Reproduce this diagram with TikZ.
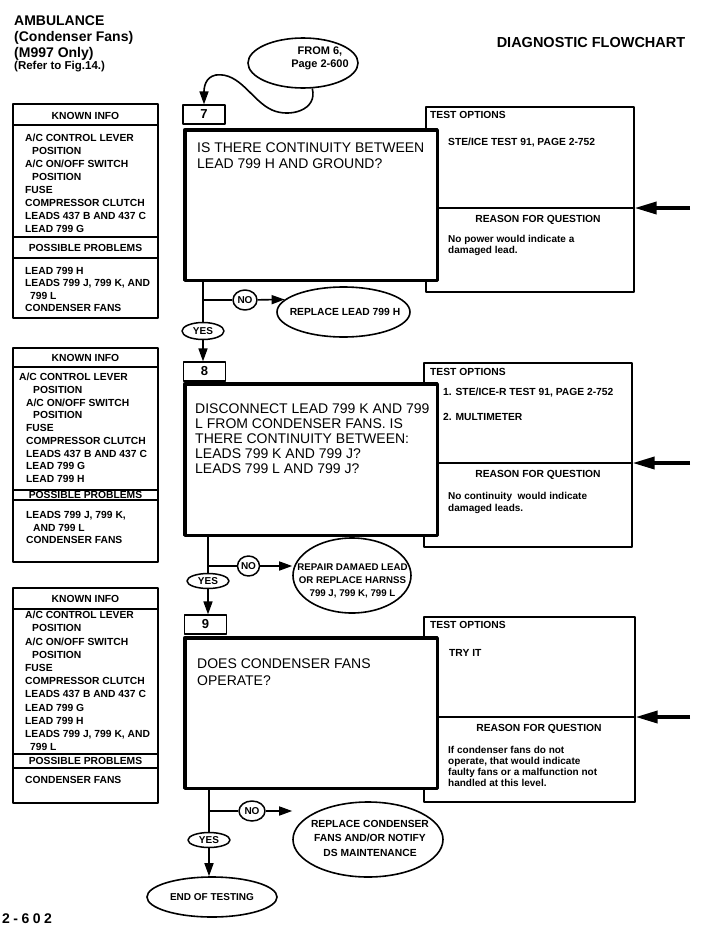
\documentclass[tikz,border=0pt]{standalone}
\usepackage{fontspec}
\setmainfont{Liberation Sans}
\usetikzlibrary{arrows.meta,shapes.geometric}
\newcommand{\infofont}{\fontsize{10.3}{12.9}\selectfont\bfseries}
\newcommand{\askfont}{\fontsize{14}{16}\selectfont}
\newcommand{\indpos}{\hspace*{7pt}}

\begin{document}
\begin{tikzpicture}[x=1pt, y=-1pt, line join=round,
  thinline/.style={line width=1.2pt},
  flow/.style={line width=1.6pt},
  >={Triangle[length=13pt,width=9pt]},
  bigarrow/.style={line width=3.5pt, -{Triangle[length=22pt,width=12pt]}},
  numbox/.style={draw, thinline, fill=white, minimum width=42pt, minimum height=19pt, inner sep=0pt, font=\fontsize{13}{13}\selectfont\bfseries},
  askbox/.style={draw, line width=3.5pt, fill=white, minimum width=252.5pt, inner sep=0pt},
  testbox/.style={draw, thinline, inner sep=0pt},
  infobox/.style={draw, thinline, minimum width=145pt, inner sep=0pt},
  infotext/.style={anchor=base west, inner sep=0pt, align=left, font=\infofont},
  infohead/.style={anchor=base, inner sep=0pt, font=\infofont},
  asktext/.style={anchor=base west, inner sep=0pt, align=left, font=\askfont},
  titletext/.style={anchor=base west, inner sep=0pt, font=\fontsize{14}{16}\selectfont\bfseries},
  oval/.style={draw, ellipse, line width=1.6pt, fill=white, inner sep=0pt},
  ovaltext/.style={inner sep=0pt, align=center, font=\fontsize{10.3}{13.5}\selectfont\bfseries},
  choicetag/.style={draw, ellipse, line width=1.5pt, fill=white, inner sep=0pt, font=\fontsize{10}{10}\selectfont\bfseries}]
\useasboundingbox (0,0) rectangle (703,932);

% heading
\node[titletext] (ttl1) at (14,25) {AMBULANCE};
\node[titletext] (ttl2) at (14,41) {(Condenser Fans)};
\node[titletext] (ttl3) at (14,57) {(M997 Only)};
\node[titletext, font=\fontsize{11.5}{12}\selectfont\bfseries] (ttl4) at (14,69.5) {(Refer to Fig.14.)};
\node[titletext, anchor=base, font=\fontsize{14.5}{16}\selectfont\bfseries] (diag) at (591,47) {DIAGNOSTIC FLOWCHART};
\node[titletext, font=\fontsize{14}{14}\selectfont\bfseries] (pg) at (2,923) {2\kern3.5pt-\kern3.5pt6\kern3.5pt0\kern3.5pt2};

% left info boxes (text nodes sit on their last baseline)
\node[infobox, minimum height=214pt] (kb7) at (85.5,211) {};
\draw[thinline] (13,125) -- (158,125) (13,237) -- (158,237) (13,258) -- (158,258);
\node[infohead] (kh7) at (85.5,119) {KNOWN INFO};
\node[infotext] (ki7) at (25,232) {A/C CONTROL LEVER\\\indpos POSITION\\A/C ON/OFF SWITCH\\\indpos POSITION\\FUSE\\COMPRESSOR CLUTCH\\LEADS 437 B AND 437 C\\LEAD 799 G};
\node[infohead] (ph7) at (85.5,251) {POSSIBLE PROBLEMS};
\node[infotext, font=\fontsize{10.3}{12.3}\selectfont\bfseries] (pi7) at (25,311.4) {LEAD 799 H\\LEADS 799 J, 799 K, AND\\\hspace*{5pt}799 L\\CONDENSER FANS};

\node[infobox, minimum height=214pt] (kb8) at (85.5,455) {};
\draw[thinline] (13,367) -- (158,367) (13,490) -- (158,490) (13,500) -- (158,500);
\node[infohead] (kh8) at (85.5,361.5) {KNOWN INFO};
\node[infotext, font=\fontsize{10.3}{12.75}\selectfont\bfseries] (ki8) at (26,482.7) {\hspace*{-7pt}A/C CONTROL LEVER\\\indpos POSITION\\A/C ON/OFF SWITCH\\\indpos POSITION\\FUSE\\COMPRESSOR CLUTCH\\LEADS 437 B AND 437 C\\LEAD 799 G\\LEAD 799 H};
\node[infohead] (ph8) at (85.5,498.5) {POSSIBLE PROBLEMS};
\node[infotext, font=\fontsize{10.3}{12.5}\selectfont\bfseries] (pi8) at (26,543.7) {LEADS 799 J, 799 K,\\\indpos AND 799 L\\CONDENSER FANS};

\node[infobox, minimum height=215pt] (kb9) at (85.5,695.5) {};
\draw[thinline] (13,609) -- (158,609) (13,754) -- (158,754) (13,768) -- (158,768);
\node[infohead] (kh9) at (85.5,602) {KNOWN INFO};
\node[infotext, font=\fontsize{10.3}{13.2}\selectfont\bfseries] (ki9) at (25,750.7) {A/C CONTROL LEVER\\\indpos POSITION\\A/C ON/OFF SWITCH\\\indpos POSITION\\FUSE\\COMPRESSOR CLUTCH\\LEADS 437 B AND 437 C\\LEAD 799 G\\LEAD 799 H\\LEADS 799 J, 799 K, AND\\\hspace*{5pt}799 L};
\node[infohead] (ph9) at (85.5,764.5) {POSSIBLE PROBLEMS};
\node[infotext] (pi9) at (25,783.7) {CONDENSER FANS};

% step 7
\node[testbox, minimum width=208pt, minimum height=185pt] (t7) at (530,199.5) {};
\node[askbox, minimum height=150.5pt] (q7) at (311,205) {};
\node[numbox] (n7) at (204,114.5) {7};
\draw[thinline] (439,208) -- (634,208);
\coordinate (a7) at (690,208);
\draw[bigarrow] (a7) -- (t7.east |- a7);
\node[asktext] (qt7) at (197,168) {IS THERE CONTINUITY BETWEEN\\LEAD 799 H AND GROUND?};
\node[infotext] (to7) at (430,118.7) {TEST OPTIONS};
\node[infotext] (ti7) at (448,145.7) {STE/ICE TEST 91, PAGE 2-752};
\node[infohead] (rh7) at (538,222) {REASON FOR QUESTION};
\node[infotext, font=\fontsize{10}{11}\selectfont\bfseries] (ri7) at (448,253.7) {No power would indicate a\\damaged lead.};

% step 8
\node[testbox, minimum width=208pt, minimum height=184pt] (t8) at (528,455) {};
\node[askbox, minimum height=151.5pt] (q8) at (311,459.5) {};
\node[numbox] (n8) at (204.5,371.5) {8};
\draw[thinline] (439,463) -- (632,463);
\coordinate (a8) at (690,463);
\draw[bigarrow] (a8) -- (t8.east |- a8);
\node[asktext, font=\fontsize{14}{15.1}\selectfont] (qt8) at (195,473.4) {DISCONNECT LEAD 799 K AND 799\\L FROM CONDENSER FANS. IS\\THERE CONTINUITY BETWEEN:\\LEADS 799 K AND 799 J?\\LEADS 799 L AND 799 J?};
\node[infotext] (to8) at (430,375.7) {TEST OPTIONS};
\node[infotext] (ti8) at (443,395.7) {1. STE/ICE-R TEST 91, PAGE 2-752};
\node[infotext] (tj8) at (443,420.7) {2. MULTIMETER};
\node[infohead] (rh8) at (538,477.7) {REASON FOR QUESTION};
\node[infotext, font=\fontsize{10}{12}\selectfont\bfseries] (ri8) at (448,511.7) {No continuity\ \ would indicate\\damaged leads.};

% step 9
\node[testbox, minimum width=211pt, minimum height=185pt] (t9) at (529.5,709.5) {};
\node[askbox, minimum height=150.5pt] (q9) at (311,713) {};
\node[numbox] (n9) at (205.5,624.5) {9};
\draw[thinline] (439,717) -- (635,717);
\coordinate (a9) at (690,717);
\draw[bigarrow] (a9) -- (t9.east |- a9);
\node[asktext, font=\fontsize{14}{17}\selectfont] (qt9) at (197,685) {DOES CONDENSER FANS\\OPERATE?};
\node[infotext] (to9) at (430,628.7) {TEST OPTIONS};
\node[infotext] (ti9) at (449,656.7) {TRY IT};
\node[infohead] (rh9) at (539,731.7) {REASON FOR QUESTION};
\node[infotext, font=\fontsize{10}{11}\selectfont\bfseries] (ri9) at (448,786.7) {If condenser fans do not\\operate, that would indicate\\faulty fans or a malfunction not\\handled at this level.};

% entry from step 6
\node[oval, minimum width=110pt, minimum height=50pt] (from6) at (303,63) {};
\node[ovaltext, font=\fontsize{11}{13}\selectfont\bfseries] (from6t) at (320,58.5) {FROM 6,\\Page 2-600};
\draw[flow,->] (from6.290) .. controls (318,110) and (290,118) .. (272,110) .. controls (252,101) and (240,72) .. (216,75) .. controls (205,77) and (204,88) .. (n7.north);

% branches of 7
\node[choicetag, minimum width=24pt, minimum height=20pt] (no7) at (245,300) {NO};
\node[choicetag, minimum width=42pt, minimum height=17pt] (yes7) at (203,331) {YES};
\node[oval, minimum width=133pt, minimum height=50pt] (rep7) at (343.5,312) {};
\node[ovaltext] (rep7t) at (345,312) {REPLACE LEAD 799 H};
\draw[flow] (q7.south -| yes7) -- (yes7);
\draw[flow] (yes7 |- no7) -- (no7);
\draw[flow,->] (no7) -- (rep7.168);
\draw[flow,->] (yes7) -- (yes7 |- n8.north);

% branches of 8
\node[choicetag, minimum width=22pt, minimum height=20pt] (no8) at (248.5,566) {NO};
\node[choicetag, minimum width=42pt, minimum height=15pt] (yes8) at (208,581) {YES};
\node[oval, minimum width=118pt, minimum height=75pt] (rep8) at (352,575.5) {};
\node[ovaltext, font=\fontsize{9.7}{13}\selectfont\bfseries] (rep8t) at (352.5,581) {REPAIR DAMAED LEAD\\OR REPLACE HARNSS\\799 J, 799 K, 799 L};
\draw[flow] (q8.south -| yes8) -- (yes8);
\draw[flow] (yes8 |- no8) -- (no8);
\draw[flow,->] (no8) -- (rep8.west |- no8);
\draw[flow,->] (yes8) -- (yes8 |- n9.north);

% branches of 9
\node[choicetag, minimum width=26pt, minimum height=20pt] (no9) at (252,811) {NO};
\node[choicetag, minimum width=42pt, minimum height=15pt] (yes9) at (209,840) {YES};
\node[oval, minimum width=150pt, minimum height=75pt] (rep9) at (368,839.5) {};
\node[ovaltext, font=\fontsize{10.3}{14.5}\selectfont\bfseries] (rep9t) at (370,838) {REPLACE CONDENSER\\FANS AND/OR NOTIFY\\DS MAINTENANCE};
\node[oval, minimum width=130pt, minimum height=40pt, font=\fontsize{10}{12}\selectfont\bfseries] (endt) at (212,897) {END OF TESTING};
\draw[flow] (q9.south -| yes9) -- (yes9);
\draw[flow] (yes9 |- no9) -- (no9);
\draw[flow,->] (no9) -- (rep9.west |- no9);
\draw[flow,->] (yes9) -- (yes9 |- endt.north);
\end{tikzpicture}
\end{document}
